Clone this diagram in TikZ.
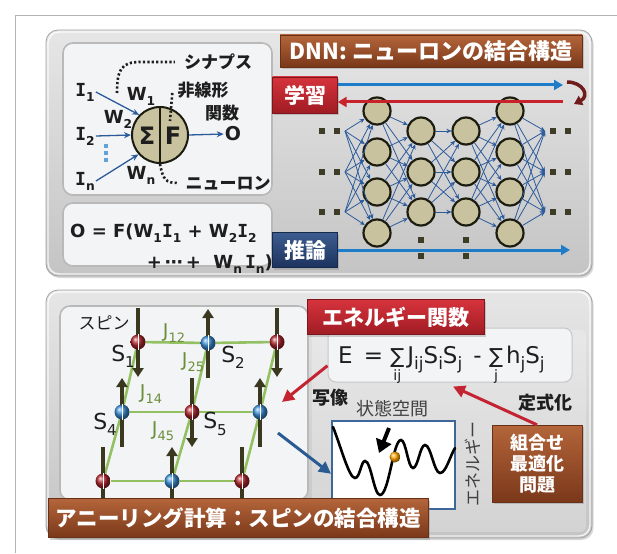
\documentclass[tikz,border=0pt]{standalone}
\usepackage{fontspec}
\setmainfont{DejaVu Sans}
\newfontfamily\jp{Noto Sans CJK JP}
\newfontfamily\serifmono{DejaVu Sans Mono}
\usetikzlibrary{arrows.meta,shadows,calc}

\newcommand\fsz[1]{\fontsize{#1}{#1}\selectfont}
\newcommand\lo[1]{\raisebox{-0.28em}{\scalebox{0.68}{#1}}}
\newcommand\loE[1]{\raisebox{-0.3em}{\scalebox{0.74}{#1}}}
\newcommand\Ig{{\serifmono\bfseries I}}
\newcommand\sumlim[1]{\begin{tabular}[t]{@{}c@{}}\scalebox{0.9}{∑}\\[-6pt]\scalebox{0.62}{#1}\end{tabular}}

\definecolor{frameline}{HTML}{B4B4B4}
\definecolor{paneltop}{HTML}{E6E6E6}
\definecolor{panelbot}{HTML}{C4C4C4}
\definecolor{paneledge}{HTML}{A4A4A4}
\definecolor{innerfill}{HTML}{F3F4F6}
\definecolor{brownA}{HTML}{B4653A}
\definecolor{brownB}{HTML}{7A381A}
\definecolor{redA}{HTML}{D6333C}
\definecolor{redB}{HTML}{A01C24}
\definecolor{navyA}{HTML}{3C5C90}
\definecolor{navyB}{HTML}{1D335E}
\definecolor{cellfill}{HTML}{C8C29E}
\definecolor{cellline}{HTML}{1C1B10}
\definecolor{netblue}{HTML}{2C5B9C}
\definecolor{flowblue}{HTML}{1E7CC8}
\definecolor{flowred}{HTML}{C8222C}
\definecolor{turnred}{HTML}{6E1C1C}
\definecolor{dotdark}{HTML}{3E3B26}
\definecolor{bond}{HTML}{93C062}
\definecolor{jgreen}{HTML}{6B8E3A}
\definecolor{spinrod}{HTML}{3A3920}
\definecolor{spinred}{HTML}{B0262C}
\definecolor{spinblue}{HTML}{3C8FD6}
\definecolor{boxblue}{HTML}{3D6799}
\definecolor{mapred}{HTML}{C42431}
\definecolor{mapblue}{HTML}{2A5A92}
\definecolor{ink}{HTML}{1E1E1E}

\pgfdeclarelayer{base}
\pgfdeclarelayer{back}
\pgfsetlayers{base,back,main}

\tikzset{
  panel/.style={draw=paneledge, line width=0.8pt, rounded corners=12pt,
    top color=paneltop, bottom color=panelbot,
    drop shadow={shadow xshift=1.5pt, shadow yshift=-2pt, opacity=0.3}},
  rim/.style={draw=white, line width=1.4pt, rounded corners=11pt, opacity=0.8},
  subpanel/.style={draw=gray!55, line width=1.6pt, rounded corners=10pt, fill=innerfill},
  brownbar/.style={top color=brownA, bottom color=brownB, draw=brownB!85!black, line width=0.4pt,
    text=white, inner sep=0pt, font=\jp\bfseries\fsz{22},
    drop shadow={shadow xshift=1.5pt, shadow yshift=-2pt, opacity=0.35}},
  redtag/.style={top color=redA, bottom color=redB, draw=redB!80!black, line width=0.4pt,
    text=white, inner sep=0pt, font=\jp\bfseries\fsz{21},
    drop shadow={shadow xshift=1.5pt, shadow yshift=-2pt, opacity=0.35}},
  navytag/.style={top color=navyA, bottom color=navyB, draw=navyB!80!black, line width=0.4pt,
    text=white, inner sep=0pt, font=\jp\bfseries\fsz{21},
    drop shadow={shadow xshift=1.5pt, shadow yshift=-2pt, opacity=0.35}},
  cell/.style={circle, draw=cellline, line width=2.2pt, fill=cellfill, minimum size=27pt, inner sep=0pt},
  link/.style={draw=netblue, line width=0.8pt, -{Stealth[length=5pt,width=4.5pt]}},
  sq/.style={fill=dotdark, minimum size=6pt, inner sep=0pt},
  nlab/.style={font=\bfseries\fsz{18}, text=ink, inner sep=1pt},
  jlab/.style={font=\jp\bfseries\fsz{17}, text=ink, inner sep=1pt},
  feed/.style={draw=netblue, line width=1.3pt, -{Stealth[length=7pt,width=6pt]}},
  dotline/.style={draw=ink, line width=2.6pt, dash pattern=on 2.2pt off 2.2pt},
  flow/.style={line width=3pt, -{Triangle[length=9pt,width=10pt]}},
  spinball/.style={circle, minimum size=15pt, inner sep=0pt, shading=ball},
  rod/.style={draw=spinrod, line width=3.6pt, -{Triangle[length=9pt,width=11pt]}},
  slab/.style={font=\fsz{22}, text=ink, inner sep=0pt},
  jcoup/.style={font=\fsz{19}, text=jgreen, inner sep=0pt},
  maparrow/.style={line width=3pt, -{Triangle[length=12pt,width=12pt]}},
}

\begin{document}
\begin{tikzpicture}[x=1pt,y=-1pt]
\useasboundingbox (0,0) rectangle (617,553);

% page, frame and the two panels
\begin{pgfonlayer}{base}
\fill[white] (0,0) rectangle (617,553);
\draw[frameline, line width=0.8pt] (15,553) -- (15,15) -- (617,15);
\path[panel] (46,30) rectangle (592,276);
\path[panel] (46,290) rectangle (592,538);
\path[rim] (48,32) rectangle (590,274);
\path[rim] (48,292) rectangle (590,536);
\path[subpanel] (63,43) rectangle (272,195);
\path[subpanel] (63,203) rectangle (272,266);
\path[subpanel] (60,306) rectangle (308,500);
\fill[white, opacity=0.25, rounded corners=6pt] (312,330) rectangle (586,532);
\end{pgfonlayer}

% ---------------- single neuron ----------------
\node[circle, draw=cellline, line width=2pt, fill=cellfill, minimum size=56pt, inner sep=0pt] (neu) at (160,135) {};
\draw[cellline, line width=2pt] (neu.north) -- (neu.south);
\node[font=\bfseries\fsz{24}, text=ink] (sig) at (147,136) {Σ};
\node[font=\bfseries\fsz{24}, text=ink] (fn) at (173,136) {F};

\node[nlab] (i1) at (85,92) {\Ig\lo{1}};
\node[nlab] (i2) at (85,136) {\Ig\lo{2}};
\node[nlab] (in) at (85,181) {\Ig\lo{n}};
\foreach \k/\y in {1/146,2/153,3/160}
  \node[fill=flowblue!70, minimum width=3.5pt, minimum height=4pt, inner sep=0pt] (vd\k) at (106,\y) {};
\node[nlab] (w1) at (141,96) {W\lo{1}};
\node[nlab] (w2) at (118,119) {W\lo{2}};
\node[nlab] (wn) at (141,175) {W\lo{n}};
\node[nlab, font=\bfseries\fsz{19}] (outO) at (233,134) {O};

\draw[feed] (i1.east) -- (neu.136);
\draw[feed] (i2.east) -- (neu.west);
\draw[feed] (in.east) -- (neu.222);
\draw[feed] (neu.east) -- (outO.west);

\node[jlab] (syn) at (218,62) {シナプス};
\node[jlab] (nonlin) at (203,90) {非線形};
\node[jlab] (func) at (222,113) {関数};
\node[jlab] (neuron) at (228,183) {ニューロン};
\coordinate (fpt) at (170,121);
\coordinate (wpt) at (117,93);
\draw[dotline, shorten >=8pt] (wpt) .. controls (117,70) and (121,62) .. (140,62) -- (syn.west);
\draw[dotline] ([xshift=-4pt,yshift=-3pt]nonlin.west) -- (fpt);
\draw[dotline, shorten >=6pt] (neu.south) .. controls (163,180) and (166,183) .. (neuron.west);

% output formula
\node[anchor=base west, font=\bfseries\fsz{18}, text=ink, inner sep=0pt] (fl1) at (70,237)
  {O = F(W\lo{1}\Ig\lo{1} + W\lo{2}\Ig\lo{2}};
\node[anchor=base east, font=\bfseries\fsz{18}, text=ink, inner sep=0pt] (fl2) at (273,268)
  {+\,⋯\,+\ \ W\lo{n}\,\Ig\lo{n})};

% ---------------- deep network ----------------
\node[brownbar, minimum width=302pt, minimum height=32pt] (dnn) at (431,51) {DNN: ニューロンの結合構造};

\foreach \i/\y in {1/111,2/152,3/192,4/233} {
  \node[cell] (a\i) at (377,\y) {};
  \node[cell] (d\i) at (510,\y) {};
}
\foreach \i/\y in {1/131,2/172,3/212} {
  \node[cell] (b\i) at (421,\y) {};
  \node[cell] (c\i) at (466,\y) {};
  \coordinate (src\i) at (345,\y);
  \coordinate (dst\i) at (545,\y);
  \node[sq] (lp\i) at (322,\y) {};
  \node[sq] (lq\i) at (337,\y) {};
  \node[sq] (rp\i) at (553,\y) {};
  \node[sq] (rq\i) at (568,\y) {};
}
\foreach \s in {1,2,3} \foreach \t in {1,2,3,4} {
  \draw[link] (src\s) -- (a\t);
  \draw[link] (c\s) -- (d\t);
}
\foreach \s in {1,2,3,4} \foreach \t in {1,2,3} {
  \draw[link] (a\s) -- (b\t);
  \draw[link] (d\s) -- (dst\t);
}
\foreach \s in {1,2,3} \foreach \t in {1,2,3}
  \draw[link] (b\s) -- (c\t);
\node[sq] (bp1) at (421,240) {};
\node[sq] (bp2) at (421,256) {};
\node[sq] (bq1) at (466,240) {};
\node[sq] (bq2) at (466,256) {};

\node[redtag, minimum width=65pt, minimum height=36pt] (learn) at (305,95) {学習};
\node[navytag, minimum width=65pt, minimum height=35pt] (infer) at (305,250) {推論};

\coordinate (fwdend) at (563,85);
\coordinate (backstart) at (563,102);
\coordinate (infend) at (570,250);
\draw[flow, draw=flowblue] (learn.east |- fwdend) -- (fwdend);
\draw[flow, draw=flowred] (backstart) -- (backstart -| learn.east);
\draw[flow, draw=flowblue] (infer.east |- infend) -- (infend);
\draw[turnred, line width=3.5pt, -{Triangle[length=8pt,width=10pt]}]
  (567,82) .. controls (583,82) and (590,96) .. (574,104);

% ---------------- spin lattice ----------------
\foreach \n/\x/\y/\c in {11/138/342/spinred, 12/208/343/spinblue, 13/277/342/spinred,
                        21/122/412/spinblue, 22/192/412/spinred, 23/260/412/spinblue,
                        31/103/481/spinred, 32/172/481/spinblue, 33/242/481/spinred}
  \node[spinball, ball color=\c] (s\n) at (\x,\y) {};
\foreach \n in {11,12,13,21,22,23,31,32,33}
  \draw[white, line width=0.9pt] (s\n.north) -- (s\n.south);

\begin{pgfonlayer}{back}
\foreach \p/\q in {11/12,12/13,21/22,22/23,31/32,32/33,11/21,21/31,12/22,22/32,13/23,23/33}
  \draw[bond, line width=2.6pt] (s\p) -- (s\q);
% red spins point down, blue spins point up
\foreach \n in {11,13,22,31,33}
  \draw[rod] (s\n) ++(0,-34) -- ++(0,69);
\foreach \n in {12,21,23,32}
  \draw[rod] (s\n) ++(0,35) -- ++(0,-69);
\end{pgfonlayer}

\node[font=\jp\fsz{17}, text=ink, inner sep=0pt] (spinlbl) at (104,323) {スピン};
\node[slab] (S1) at (123,356) {S\lo{1}};
\node[slab] (S2) at (233,357) {S\lo{2}};
\node[slab] (S4) at (105,424) {S\lo{4}};
\node[slab] (S5) at (215,424) {S\lo{5}};
\node[jcoup] (J12) at (174,333) {J\lo{12}};
\node[jcoup] (J25) at (193,362) {J\lo{25}};
\node[jcoup] (J14) at (151,394) {J\lo{14}};
\node[jcoup] (J45) at (163,431) {J\lo{45}};

% ---------------- energy function & state space ----------------
\node[rounded corners=8pt, fill=innerfill, draw=gray!45, line width=1pt,
      minimum width=244pt, minimum height=54pt] (ebox) at (450,355) {};
\node[anchor=base west, font=\fsz{23}, text=ink, inner sep=0pt] (eform) at (338,363)
  {E\ \,=\ \sumlim{ij}\kern3pt J\loE{ij}S\loE{i}S\loE{j}\ \,-\ \sumlim{j}\kern3pt h\loE{j}S\loE{j}};
\node[redtag, minimum width=177pt, minimum height=35pt] (etag) at (396,317) {エネルギー関数};

\node[fill=white, draw=boxblue, line width=2pt, minimum width=123pt, minimum height=88pt] (sbox) at (393.5,465) {};
\node[font=\jp\fsz{18}, text=ink!85, inner sep=0pt] (stlbl) at (392,409) {状態空間};
\node[font=\jp\fsz{17}, text=ink!85, inner sep=0pt, rotate=90] (enlbl) at (473,464) {エネルギー};

\draw[black, line width=2.6pt, line cap=round]
  (333,427) .. controls (341,447) and (349,478) .. (355,478)
  .. controls (360,478) and (361,461) .. (365,461)
  .. controls (371,461) and (374,495) .. (380,495)
  .. controls (389,495) and (393,440) .. (401,440)
  .. controls (406,440) and (408,468) .. (413,468)
  .. controls (418,468) and (420,445) .. (425,445)
  .. controls (431,445) and (434,473) .. (440,473)
  .. controls (446,473) and (450,456) .. (455,448);
\node[circle, minimum size=11pt, inner sep=0pt, shading=ball, ball color=orange!70!yellow] (ball) at (395,457) {};
\coordinate (pushtop) at (389,428);
\draw[black, line width=4pt, -{Triangle[length=13pt,width=16pt]}] (pushtop) -- ++(-10,25);

\node[jlab, font=\jp\bfseries\fsz{18}] (mapl) at (330,398) {写像};
\node[jlab, font=\jp\bfseries\fsz{18}] (forml) at (545,403) {定式化};

\node[brownbar, font=\jp\bfseries\fontsize{18}{21}\selectfont, minimum width=90pt, minimum height=77pt, align=center]
  (cbox) at (537,463.5) {組合せ\\最適化\\問題};

\coordinate (mapend) at (282,402);
\coordinate (mapstart) at (278,433);
\draw[maparrow, draw=mapred] (ebox.185) -- (mapend);
\draw[maparrow, draw=mapred] (cbox.north) -- ([xshift=3pt,yshift=-4pt]ebox.south);
\draw[maparrow, draw=mapblue] (mapstart) -- (sbox.188);

\node[brownbar, font=\jp\bfseries\fsz{21.5}, minimum width=380pt, minimum height=39pt] (anneal) at (238,518)
  {アニーリング計算：スピンの結合構造};
\end{tikzpicture}
\end{document}
